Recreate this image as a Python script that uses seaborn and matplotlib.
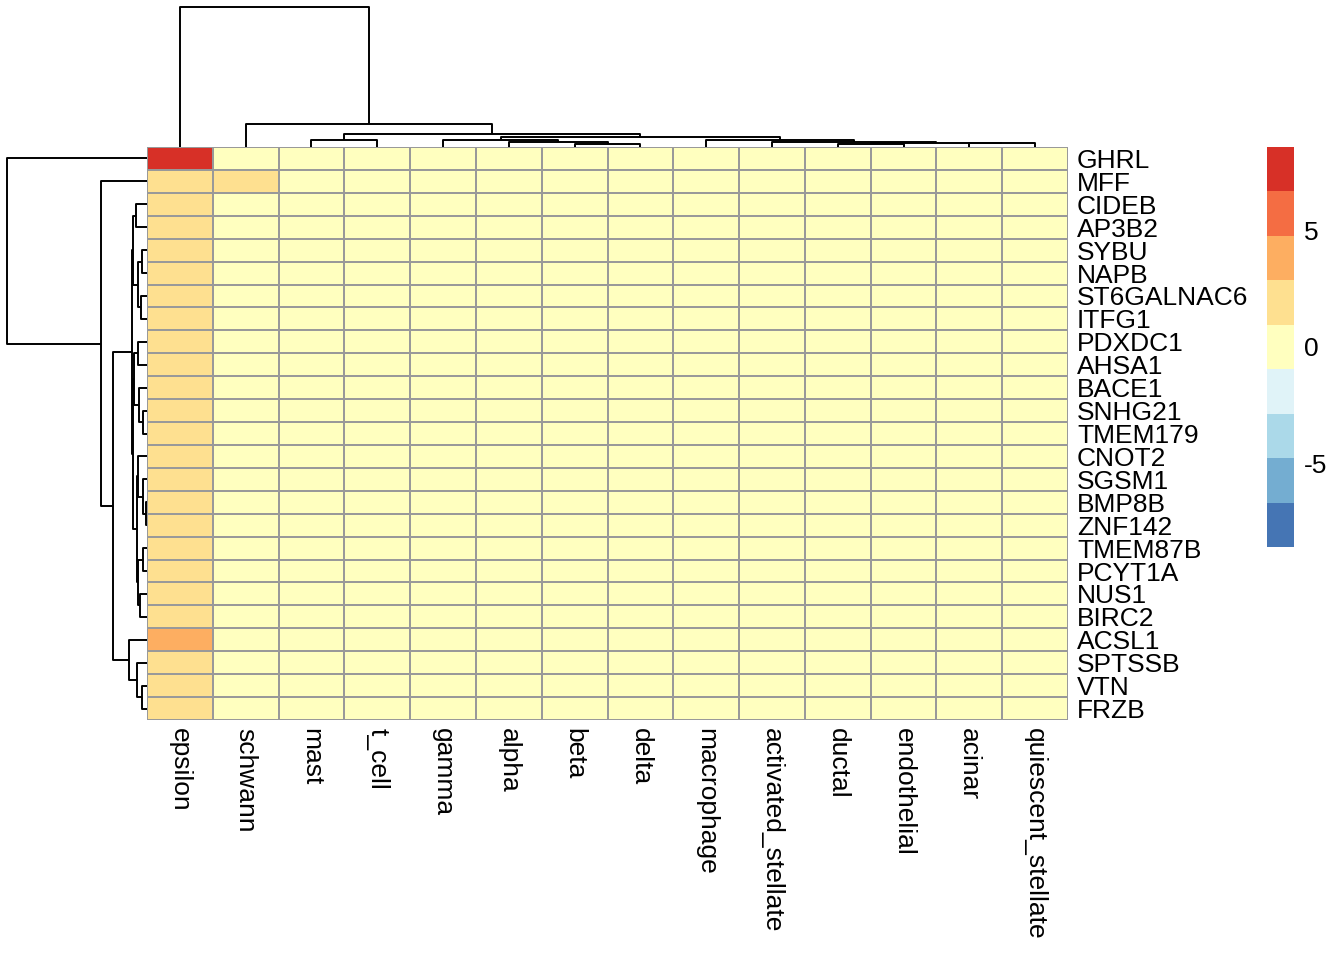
import numpy as np
import pandas as pd
import matplotlib
matplotlib.use("Agg")
import matplotlib.pyplot as plt
import seaborn as sns
from matplotlib.colors import ListedColormap, BoundaryNorm

sns.set_theme(style="white")
plt.rcParams['font.family'] = ['Liberation Sans', 'DejaVu Sans']
plt.rcParams['axes.unicode_minus'] = False
plt.rcParams['text.color'] = 'black'
plt.rcParams['xtick.color'] = 'black'
plt.rcParams['ytick.color'] = 'black'

# heatmap labels (display order after clustering)
genes = ['GHRL', 'MFF', 'CIDEB', 'AP3B2', 'SYBU', 'NAPB', 'ST6GALNAC6', 'ITFG1',
         'PDXDC1', 'AHSA1', 'BACE1', 'SNHG21', 'TMEM179', 'CNOT2', 'SGSM1', 'BMP8B',
         'ZNF142', 'TMEM87B', 'PCYT1A', 'NUS1', 'BIRC2', 'ACSL1', 'SPTSSB', 'VTN', 'FRZB']
cell_types = ['epsilon', 'schwann', 'mast', 't_cell', 'gamma', 'alpha', 'beta', 'delta',
              'macrophage', 'activated_stellate', 'ductal', 'endothelial', 'acinar',
              'quiescent_stellate']

# values
epsilon_vals = [8.5, 1.9, 1.8, 1.7, 1.7, 1.7, 1.8, 1.7, 1.7, 1.7, 1.7, 1.7, 1.7,
                1.7, 1.7, 1.7, 1.7, 1.7, 1.7, 1.7, 1.8, 3.6, 1.9, 1.9, 1.9]
schwann_vals = [0.1, 1.3, 0.1, 0.1, 0.1, 0.1, 0.1, 0.1, 0.1, 0.1, 0.1, 0.1, 0.1,
                0.1, 0.1, 0.1, 0.1, 0.1, 0.1, 0.1, 0.1, 0.1, 0.1, 0.1, 0.1]
rest_vals = [0.0] * len(genes)

# colour scale
colors = ['#4575B4', '#74ADD1', '#ABD9E9', '#E0F3F8', '#FFFFBF',
          '#FEE090', '#FDAE61', '#F46D43', '#D73027']
vlim = 8.55
breaks = np.linspace(-vlim, vlim, len(colors) + 1)
legend_ticks = [-5, 0, 5]

# dendrograms, merges as (a, b, height); leaves indexed in display order
col_a = [6, 5, 4, 10, 12, 17, 9, 8, 16, 2, 23, 1, 0]
col_b = [7, 14, 15, 11, 13, 18, 19, 20, 21, 3, 22, 24, 25]
col_h = [0.024, 0.038, 0.052, 0.019, 0.026, 0.032, 0.037, 0.050, 0.074, 0.052, 0.095, 0.166, 1.0]

row_a = [2, 4, 6, 26, 25, 8, 11, 10, 30, 15, 14, 13, 17, 19, 37, 36, 33, 29, 23, 22, 21, 42, 1, 0]
row_b = [3, 5, 7, 27, 28, 9, 12, 31, 32, 16, 34, 35, 18, 20, 38, 39, 40, 41, 24, 43, 44, 45, 46, 47]
row_h = [0.078, 0.033, 0.040, 0.062, 0.100, 0.064, 0.026, 0.056, 0.092, 0.010, 0.026, 0.064,
         0.026, 0.050, 0.064, 0.074, 0.097, 0.105, 0.034, 0.069, 0.126, 0.245, 0.329, 1.0]

data = {ct: rest_vals for ct in cell_types}
data['epsilon'] = epsilon_vals
data['schwann'] = schwann_vals
df = pd.DataFrame(data, index=genes)[cell_types]


def dendro_lines(n, ma, mb, mh):
    pos = list(np.arange(n) + 0.5)
    hts = [0.0] * n
    lines = []
    for a, b, h in zip(ma, mb, mh):
        lines.append(([pos[a], pos[a], pos[b], pos[b]], [hts[a], h, h, hts[b]]))
        pos.append((pos[a] + pos[b]) / 2)
        hts.append(h)
    return lines


W, H = 1344, 960
fig = plt.figure(figsize=(W / 100, H / 100), dpi=100)


def px_axes(x0, y0, x1, y1):
    return fig.add_axes([x0 / W, 1 - y1 / H, (x1 - x0) / W, (y1 - y0) / H])


ax = px_axes(147, 147, 1068, 720)
ax_col = px_axes(147, 7, 1068, 147)
ax_row = px_axes(7, 147, 147, 720)
cax = px_axes(1267, 147, 1294, 547)

cmap = ListedColormap(colors)
norm = BoundaryNorm(breaks, cmap.N)
sns.heatmap(df, ax=ax, cmap=cmap, norm=norm, linewidths=1.3, linecolor='#999999',
            cbar_ax=cax, cbar_kws={'ticks': legend_ticks})

ax.yaxis.tick_right()
ax.set_yticks(np.arange(len(genes)) + 0.5)
ax.set_yticklabels(genes, rotation=0, ha='left', fontsize=19)
ax.set_xticks(np.arange(len(cell_types)) + 0.5)
ax.set_xticklabels(cell_types, rotation=270, ha='center', va='top', fontsize=19)
ax.tick_params(axis='y', length=0, pad=6.5)
ax.tick_params(axis='x', length=0, pad=5.5)
ax.set_xlabel('')
ax.set_ylabel('')

cbar = ax.collections[0].colorbar
cbar.outline.set_visible(False)
cbar.ax.minorticks_off()
cbar.ax.tick_params(which='both', length=0, labelsize=19, pad=7)

for xs, ys in dendro_lines(len(cell_types), col_a, col_b, col_h):
    ax_col.plot(xs, ys, color='black', lw=1.4, clip_on=False, solid_capstyle='butt')
ax_col.set_xlim(0, len(cell_types))
ax_col.set_ylim(0, 1.0)
ax_col.axis('off')

for xs, ys in dendro_lines(len(genes), row_a, row_b, row_h):
    ax_row.plot(ys, xs, color='black', lw=1.4, clip_on=False, solid_capstyle='butt')
ax_row.set_ylim(len(genes), 0)
ax_row.set_xlim(1.0, 0)
ax_row.axis('off')

fig.savefig('out.png', dpi=100)
